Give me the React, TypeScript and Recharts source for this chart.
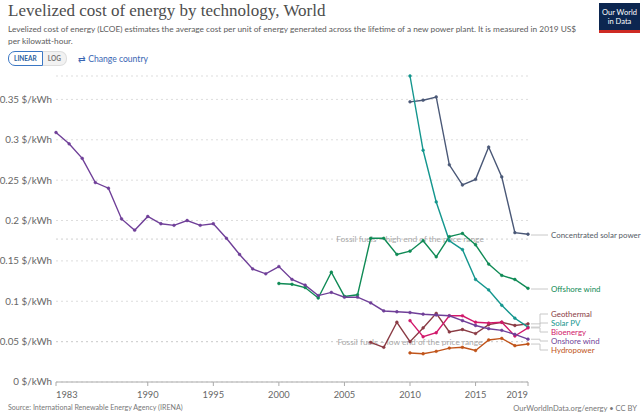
import React from "react";
import {
  LineChart,
  Line,
  XAxis,
  YAxis,
  CartesianGrid,
  ReferenceLine,
  LabelList,
} from "recharts";

// LCOE by technology, World (IRENA), 2019 US$/kWh
const years = [
  1983, 1984, 1985, 1986, 1987, 1988, 1989, 1990, 1991, 1992, 1993, 1994,
  1995, 1996, 1997, 1998, 1999, 2000, 2001, 2002, 2003, 2004, 2005, 2006,
  2007, 2008, 2009, 2010, 2011, 2012, 2013, 2014, 2015, 2016, 2017, 2018, 2019,
];

// from 1983
const onshoreWind = [
  0.309, 0.295, 0.277, 0.247, 0.24, 0.202, 0.188, 0.205, 0.196, 0.194, 0.2,
  0.194, 0.196, 0.178, 0.158, 0.14, 0.134, 0.143, 0.127, 0.12, 0.107, 0.111,
  0.105, 0.105, 0.098, 0.088, 0.087, 0.086, 0.084, 0.083, 0.082, 0.076, 0.07,
  0.066, 0.064, 0.059, 0.053,
];
// from 2000
const offshoreWind = [
  0.122, 0.121, 0.117, 0.104, 0.136, 0.106, 0.108, 0.178, 0.178, 0.158, 0.162,
  0.175, 0.155, 0.18, 0.184, 0.17, 0.146, 0.132, 0.127, 0.116,
];
// from 2007
const geothermal = [
  0.049, 0.043, 0.074, 0.05, 0.067, 0.085, 0.062, 0.065, 0.06, 0.071, 0.074,
  0.07, 0.072,
];
// from 2010
const concentratedSolar = [0.347, 0.349, 0.353, 0.269, 0.244, 0.251, 0.291, 0.254, 0.185, 0.183];
const solarPv = [0.379, 0.287, 0.223, 0.175, 0.164, 0.127, 0.114, 0.095, 0.079, 0.068];
const bioenergy = [0.076, 0.056, 0.061, 0.082, 0.082, 0.074, 0.073, 0.074, 0.057, 0.067];
const hydropower = [0.036, 0.035, 0.038, 0.042, 0.043, 0.039, 0.052, 0.054, 0.045, 0.047];

const fossilHigh = 0.177;
const fossilLow = 0.05;

const yTicks = [0, 0.05, 0.1, 0.15, 0.2, 0.25, 0.3, 0.35];
const xTicks = [1983, 1990, 1995, 2000, 2005, 2010, 2015, 2019];

const seriesDefs = [
  { key: "csp", name: "Concentrated solar power", values: concentratedSolar, from: 2010 },
  { key: "offshore", name: "Offshore wind", values: offshoreWind, from: 2000 },
  { key: "geothermal", name: "Geothermal", values: geothermal, from: 2007 },
  { key: "solar", name: "Solar PV", values: solarPv, from: 2010 },
  { key: "bio", name: "Bioenergy", values: bioenergy, from: 2010 },
  { key: "onshore", name: "Onshore wind", values: onshoreWind, from: 1983 },
  { key: "hydro", name: "Hydropower", values: hydropower, from: 2010 },
];

// styling, kept apart from the data
const STYLE: Record<string, { color: string; text: string; labelY: number }> = {
  csp: { color: "#4a5877", text: "#555b66", labelY: 235 },
  offshore: { color: "#0f8a55", text: "#0f8a55", labelY: 289 },
  geothermal: { color: "#8a3b44", text: "#8a3b44", labelY: 314 },
  solar: { color: "#14968e", text: "#14968e", labelY: 323 },
  bio: { color: "#d1186b", text: "#d1186b", labelY: 332 },
  onshore: { color: "#6f3f98", text: "#6f3f98", labelY: 341 },
  hydro: { color: "#c0541a", text: "#c0541a", labelY: 350 },
};

const rows = years.map((year) => {
  const row: Record<string, number | null> = { year };
  seriesDefs.forEach((s) => {
    const v = s.values[year - s.from];
    row[s.key] = year >= s.from && v !== undefined ? v : null;
  });
  return row;
});

const FONT = "Lato, 'Noto Sans', sans-serif";
const LAST = years.length - 1;

function XTick(props: any) {
  const { x, y, payload, index } = props;
  const anchor = index === 0 ? "start" : index === xTicks.length - 1 ? "end" : "middle";
  return (
    <text x={x} y={y + 10} textAnchor={anchor} fontSize={9.3} fill="#666" fontFamily={FONT}>
      {payload.value}
    </text>
  );
}

function YTick(props: any) {
  const { x, y, payload } = props;
  return (
    <text x={x} y={y} dy={3.4} textAnchor="end" fontSize={9.8} fill="#666" fontFamily={FONT}>
      {`${payload.value} $/kWh`}
    </text>
  );
}

function RefLabel(props: any) {
  const vb = props.viewBox || {};
  return (
    <text
      x={vb.x + vb.width * 0.75}
      y={vb.y}
      dy={3}
      textAnchor="middle"
      fontSize={8.4}
      fill="#a8a8a8"
      fontFamily={FONT}
    >
      {props.text}
    </text>
  );
}

function makeEndLabel(key: string, name: string) {
  return (props: any) => {
    const { x, y, index } = props;
    if (index !== LAST || x == null || y == null) return null;
    const st = STYLE[key];
    const ly = st.labelY;
    const straight = Math.abs(ly - y) < 1.5;
    const d = straight
      ? `M${x + 3},${ly}H${x + 20}`
      : `M${x + 3},${y}H${x + 12}V${ly}H${x + 20}`;
    return (
      <g>
        <path d={d} stroke="#c8c8c8" strokeWidth={1} fill="none" />
        <text x={x + 23} y={ly} dy={2.8} fontSize={7.9} fill={st.text} fontFamily={FONT}>
          {name}
        </text>
      </g>
    );
  };
}

export default function App() {
  return (
    <div
      style={{
        position: "absolute",
        left: 0,
        top: 0,
        width: 643,
        height: 419,
        background: "#fff",
        overflow: "hidden",
        fontFamily: FONT,
      }}
    >
      <div
        style={{
          position: "absolute",
          left: 8,
          top: 1,
          fontFamily: "'Liberation Serif', serif",
          fontSize: 17,
          color: "#4d4d4d",
          whiteSpace: "nowrap",
        }}
      >
        Levelized cost of energy by technology, World
      </div>
      <div
        style={{
          position: "absolute",
          left: 8,
          top: 23,
          width: 575,
          fontSize: 8.3,
          lineHeight: "12px",
          color: "#5b5b5b",
        }}
      >
        Levelized cost of energy (LCOE) estimates the average cost per unit of energy generated
        across the lifetime of a new power plant. It is measured in 2019 US$ per kilowatt-hour.
      </div>
      <div
        style={{
          position: "absolute",
          left: 8,
          top: 51,
          display: "flex",
          alignItems: "center",
          fontSize: 6.5,
          fontWeight: 700,
        }}
      >
        <div
          style={{
            border: "1px solid #3b77c4",
            borderRadius: "7px 0 0 7px",
            padding: "1px 5px",
            color: "#2d5fa0",
            height: 11,
            lineHeight: "11px",
          }}
        >
          LINEAR
        </div>
        <div
          style={{
            border: "1px solid #ddd",
            borderLeft: "none",
            borderRadius: "0 7px 7px 0",
            padding: "1px 5px",
            color: "#777",
            background: "#f2f2f2",
            height: 11,
            lineHeight: "11px",
          }}
        >
          LOG
        </div>
        <div style={{ marginLeft: 11, fontSize: 8.6, fontWeight: 400, color: "#3a66b3" }}>
          ⇄ Change country
        </div>
      </div>
      <div
        style={{
          position: "absolute",
          left: 599,
          top: 3,
          width: 41,
          height: 30,
          background: "#0c2650",
          borderBottom: "3px solid #ce2a23",
          color: "#fff",
          fontSize: 7.5,
          lineHeight: "9px",
          textAlign: "center",
          paddingTop: 5,
          boxSizing: "border-box",
        }}
      >
        Our World
        <br />
        in Data
      </div>

      <div style={{ position: "absolute", left: 0, top: 0 }}>
        <LineChart
          width={643}
          height={419}
          data={rows}
          margin={{ top: 76, right: 115, bottom: 15, left: 0 }}
        >
          <CartesianGrid vertical={false} stroke="#dddddd" strokeDasharray="2 3" />
          <XAxis
            dataKey="year"
            type="number"
            domain={[1983, 2019]}
            ticks={xTicks}
            height={22}
            stroke="#aaaaaa"
            tickSize={4}
            tick={<XTick />}
            interval={0}
          />
          <YAxis
            type="number"
            domain={[0, 0.379]}
            ticks={yTicks}
            width={56}
            axisLine={false}
            tickLine={false}
            tickSize={0}
            tickMargin={4}
            tick={<YTick />}
            interval={0}
          />
          <ReferenceLine
            y={fossilHigh}
            stroke="#d0d0d0"
            strokeDasharray="2 3"
            label={<RefLabel text="Fossil fuels – high end of the price range" />}
          />
          <ReferenceLine
            y={fossilLow}
            stroke="#d0d0d0"
            strokeDasharray="2 3"
            label={<RefLabel text="Fossil fuels – low end of the price range" />}
          />
          {seriesDefs.map((s) => (
            <Line
              key={s.key}
              dataKey={s.key}
              name={s.name}
              type="linear"
              stroke={STYLE[s.key].color}
              strokeWidth={1.4}
              dot={{ r: 1.4, fill: STYLE[s.key].color, stroke: STYLE[s.key].color, strokeWidth: 0.5 }}
              activeDot={false}
              isAnimationActive={false}
            >
              <LabelList dataKey={s.key} content={makeEndLabel(s.key, s.name)} />
            </Line>
          ))}
        </LineChart>
      </div>

      <div style={{ position: "absolute", left: 8, top: 403, fontSize: 7.1, color: "#777" }}>
        Source: International Renewable Energy Agency (IRENA)
      </div>
      <div style={{ position: "absolute", right: 6, top: 403, fontSize: 7.6, color: "#777" }}>
        OurWorldInData.org/energy • CC BY
      </div>
    </div>
  );
}
